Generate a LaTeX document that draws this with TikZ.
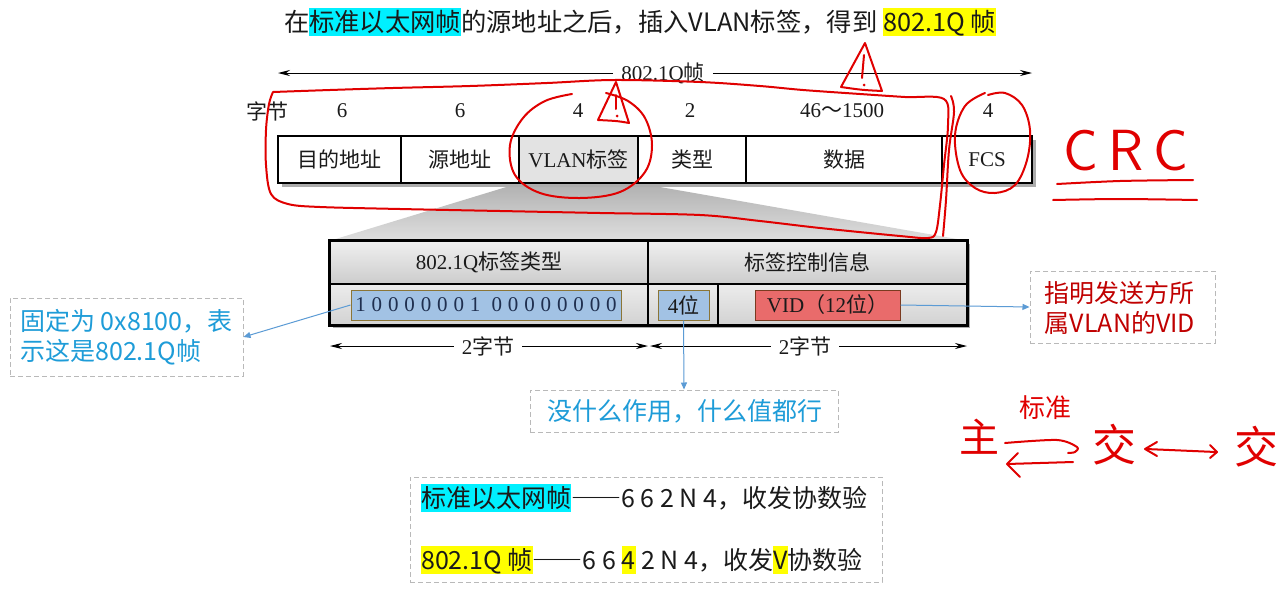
\documentclass[tikz,border=0pt]{standalone}
\usepackage{fontspec}
\setmainfont{Liberation Serif}
\newfontfamily\cjk{Noto Sans CJK SC}
\newfontfamily\binfont[LetterSpace=28]{Liberation Serif}
\usetikzlibrary{arrows.meta,shadings}
\definecolor{hlcyan}{HTML}{00F0FF}
\definecolor{hlyellow}{HTML}{FFFF00}
\definecolor{noteblue}{HTML}{1E9CD8}
\definecolor{notered}{HTML}{C00000}
\definecolor{linkblue}{HTML}{5B9BD5}
\definecolor{binfill}{HTML}{A2C2E4}
\definecolor{binedge}{HTML}{8B7536}
\definecolor{bintext}{HTML}{1F2F4F}
\definecolor{vidfill}{HTML}{E96B6B}
\definecolor{videdge}{HTML}{7A3A20}
\definecolor{pen}{HTML}{E00000}
\definecolor{ink}{HTML}{1A1A1A}
\newcommand\hlbox[2]{{\setlength{\fboxsep}{0pt}\colorbox{#1}{\rule[-0.2em]{0pt}{1.12em}#2}}}
\newcommand\zh[1]{{\cjk #1}}
\newcommand\fsz[1]{\fontsize{#1}{#1}\selectfont}
\newcommand\fulldash{{\addfontfeatures{CharacterWidth=Full}——}}
\tikzset{
  cell/.style={draw=black, line width=1.5pt, fill=white, minimum height=47pt, inner sep=0pt, font=\fsz{21}, text=ink},
  num/.style={font=\fsz{21}, text=ink, inner sep=0pt},
  sub/.style={draw=black, line width=1.3pt, inner sep=0pt},
  hdr/.style={sub, minimum height=43pt, top color=gray!12, bottom color=gray!40, font=\fsz{21}, text=ink},
  lowrow/.style={sub, minimum height=41pt, top color=gray!15, bottom color=gray!35},
  field/.style={draw, line width=1pt, minimum height=30pt, inner sep=0pt, font=\fsz{21}},
  dimarrow/.style={-{Stealth[length=12pt,width=6pt]}, line width=1pt, black},
  dimlabel/.style={font=\fsz{21}, text=ink, inner xsep=8pt, inner ysep=0pt},
  note/.style={draw=gray!55, line width=1pt, dash pattern=on 5pt off 3pt, inner sep=0pt},
  notetext/.style={font=\cjk\fontsize{25}{30}\selectfont, align=left},
  link/.style={linkblue, line width=1pt, -{Triangle[length=7pt,width=6pt]}},
  hand/.style={pen, line width=2pt, line cap=round, line join=round},
}
\begin{document}
\begin{tikzpicture}[x=1pt,y=-1pt]
\useasboundingbox (0,0) rectangle (1280,600);
\fill[white] (0,0) rectangle (1280,600);

% title
\node[font=\cjk\fsz{25.3}, text=ink, inner sep=0pt] (title) at (640,22)
  {在\hlbox{hlcyan}{标准以太网帧}的源地址之后，插入VLAN标签，得到 \hlbox{hlyellow}{802.1Q 帧}};

% overall length arrow
\coordinate (fL) at (278,73);
\coordinate (fR) at (1032,73);
\node[dimlabel] (flab) at (663,73) {802.1Q\zh{帧}};
\draw[dimarrow] (flab.west) -- (fL);
\draw[dimarrow] (flab.east) -- (fR);

% position helpers
\path (578.5,159.5) node[minimum width=119pt, minimum height=47pt, inner sep=0pt] (p3) {};
\path (489,262.5) node[minimum width=318pt, minimum height=43pt, inner sep=0pt] (pL) {}
      (807.5,262.5) node[minimum width=319pt, minimum height=43pt, inner sep=0pt] (pR) {};

% trapezoid
\shade[top color=gray!62, bottom color=gray!25] (p3.south west) -- (p3.south east) -- (pR.north east) -- (pL.north west) -- cycle;

% frame shadow
\fill[gray!65] (282,140) rectangle (1036,187);

% frame
\node[num] (zj) at (267,111) {\zh{字节}};
\node[cell, minimum width=123pt] (c1) at (339.5,159.5) {\zh{目的地址}};
\node[cell, minimum width=118pt] (c2) at (460,159.5) {\zh{源地址}};
\node[cell, minimum width=119pt, fill=gray!22] (c3) at (578.5,159.5) {VLAN\zh{标签}};
\node[cell, minimum width=108pt] (c4) at (692,159.5) {\zh{类型}};
\node[cell, minimum width=196pt] (c5) at (844,159.5) {\zh{数据}};
\node[cell, minimum width=90pt] (c6) at (987,159.5) {FCS};
\node[num] (n1) at (342,111) {6};
\node[num] (n2) at (460,111) {6};
\node[num] (n3) at (578,111) {4};
\node[num] (n4) at (690,111) {2};
\node[num] (n5) at (842,111) {46\zh{～}1500};
\node[num] (n6) at (988,111) {4};

% lower box shadow
\fill[gray!65] (333,244) rectangle (970,328);

% lower box
\node[hdr, minimum width=318pt] (hL) at (489,262.5) {802.1Q\zh{标签类型}};
\node[hdr, minimum width=319pt] (hR) at (807.5,262.5) {\zh{标签控制信息}};
\node[lowrow, minimum width=318pt] (rL) at (489,304.5) {};
\node[lowrow, minimum width=70pt] (rM) at (683,304.5) {};
\node[lowrow, minimum width=249pt] (rR) at (842.5,304.5) {};
\draw[line width=2pt] (hL.north west) rectangle (rR.south east);

\node[field, draw=binedge, fill=binfill, minimum width=270pt, text=bintext] (bin) at (486,305)
  {\binfont 10000001 00000000};
\node[field, draw=binedge, fill=binfill, minimum width=51pt, text=ink] (b4) at (683.5,305) {4\zh{位}};
\node[field, draw=videdge, fill=vidfill, minimum width=145pt, text=ink] (vid) at (827.5,305) {VID\zh{（}12\zh{位）}};

% 2 byte arrows
\coordinate (dA) at (330,346);
\coordinate (dB) at (648,346);
\coordinate (dC) at (650,346);
\coordinate (dD) at (967,346);
\node[dimlabel] (w1) at (488,346) {2\zh{字节}};
\node[dimlabel] (w2) at (805,346) {2\zh{字节}};
\draw[dimarrow] (w1.west) -- (dA);
\draw[dimarrow] (w1.east) -- (dB);
\draw[dimarrow] (w2.west) -- (dC);
\draw[dimarrow] (w2.east) -- (dD);

% callouts
\node[note, minimum width=233pt, minimum height=78pt] (lc) at (126.5,337) {};
\node[notetext, text=noteblue, inner sep=0pt] (lct) at (126.5,337) {固定为 0x8100，表\\示这是802.1Q帧};
\node[note, minimum width=185pt, minimum height=72pt] (rc) at (1122.5,307) {};
\node[notetext, text=notered, inner sep=0pt] (rct) at (1120,308) {指明发送方所\\属VLAN的VID};
\node[note, minimum width=308pt, minimum height=42pt] (mc) at (684,411) {};
\node[notetext, text=noteblue, inner sep=0pt] (mct) at (685,411) {没什么作用，什么值都行};

\draw[link] (bin.west) -- (lc.east);
\draw[link] (b4.south) -- (mc.north);
\draw[link] (vid.east) -- (rc.west);

% summary box
\node[note, minimum width=472pt, minimum height=105pt] (sum) at (646,529.5) {};
\node[font=\cjk\fsz{25}, text=ink, anchor=west, inner sep=0pt] (s1) at (421,498)
  {\hlbox{hlcyan}{标准以太网帧}\fulldash 6 6 2 N 4，收发协数验};
\node[font=\cjk\fsz{25}, text=ink, anchor=west, inner sep=0pt] (s2) at (421,560)
  {\hlbox{hlyellow}{802.1Q 帧}\fulldash 6 6 \hlbox{hlyellow}{4} 2 N 4，收发\hlbox{hlyellow}{V}协数验};

% ---- red handwriting ----
\draw[hand] plot[smooth, tension=0.55] coordinates {(273,92) (330,90) (393,88) (470,86) (547,83) (614,80) (700,82) (760,86) (803,90) (860,94) (905,97) (944,99) (948,125) (944,165) (940,205) (936,232) (928,238) (900,236) (820,228) (760,221) (700,215) (600,213) (500,211) (400,209) (320,207) (288,204) (271,194) (266,165) (266,130) (269,104) (273,92)};
\draw[hand] plot[smooth, tension=0.6] coordinates {(951,96) (954,112) (949,150) (946,200) (943,236)};
% circle round VLAN tag
\draw[hand] plot[smooth, tension=0.6] coordinates {(572,94) (545,101) (523,118) (510,145) (515,175) (540,193) (580,198) (620,192) (645,172) (652,145) (645,118) (628,101) (606,93)};
% circle round FCS
\draw[hand] plot[smooth, tension=0.6] coordinates {(985,93) (965,106) (955,135) (960,170) (975,188) (995,193) (1015,185) (1027,160) (1030,130) (1022,105) (1005,93) (988,95)};
% warning signs
\draw[hand] (616,82) -- (629,123) .. controls (618,121) .. (598,120) -- cycle;
\draw[hand] (616,95) -- (616,109);
\fill[pen] (617,116) circle (1.5pt);
\draw[hand] (865,43) -- (882,91) .. controls (862,90) .. (841,87) -- cycle;
\draw[hand] (864,55) -- (862,78);
\fill[pen] (864,85) circle (1.5pt);
% CRC
\node[font=\sffamily\fsz{58}, text=pen, inner sep=0pt] (crc) at (1126,151) {C\hspace{10pt}R\hspace{10pt}C};
\draw[hand] plot[smooth] coordinates {(1057,184) (1120,181) (1193,180)};
\draw[hand] plot[smooth] coordinates {(1053,200) (1120,199) (1197,200)};
% host <-> switch
\node[font=\cjk\fsz{40}, text=pen, inner sep=0pt] (zhu) at (979,437) {主};
\node[font=\cjk\fsz{26}, text=pen, inner sep=0pt] (bz) at (1045,408) {标准};
\node[font=\cjk\fsz{44}, text=pen, inner sep=0pt] (jiao1) at (1114,445) {交};
\node[font=\cjk\fsz{44}, text=pen, inner sep=0pt] (jiao2) at (1256,447) {交};
\draw[hand] plot[smooth] coordinates {(1005,443) (1057,440) (1077,447) (1075,452) (1068,453)};
\draw[hand] plot[smooth] coordinates {(1073,462) (1040,463) (1007,464)};
\draw[hand] (1018,453) -- (1007,464) -- (1020,477);
\draw[hand] (1146,449) -- (1216,452);
\draw[hand] (1157,442) -- (1145,449) -- (1157,456);
\draw[hand] (1210,445) -- (1217,452) -- (1210,458);
\end{tikzpicture}
\end{document}
